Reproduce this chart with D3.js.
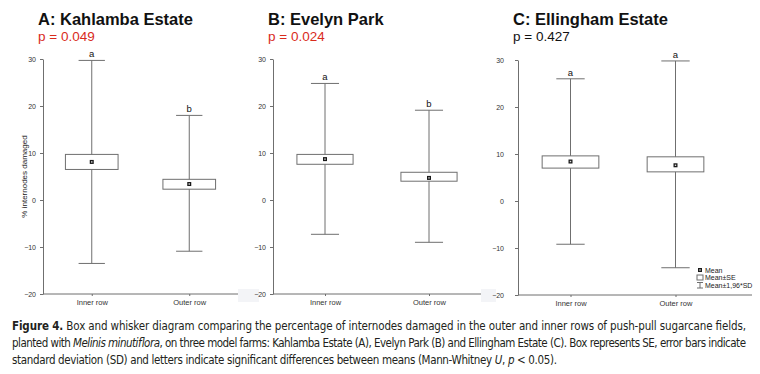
<!DOCTYPE html>
<html lang="en">
<head>
<meta charset="UTF-8">
<script src="https://d3js.org/d3.v7.min.js"></script>
<style>
    body { margin: 0; background: #fff; font-family: "Liberation Sans", Arial, sans-serif; }
    .tick text { fill: #333; }
</style>
</head>
<body>
<svg id="canvas" width="760" height="374"></svg>
<script>
// data
const farms = ["A: Kahlamba Estate", "B: Evelyn Park", "C: Ellingham Estate"];
const pLabels = ["p = 0.049", "p = 0.024", "p = 0.427"];
const pSignificant = [true, true, false];
const rows = ["Inner row", "Outer row"];
const means = [[8.1, 3.4], [8.7, 4.7], [8.4, 7.6]];
const seLow = [[6.5, 2.3], [7.6, 4.0], [7.0, 6.2]];
const seHigh = [[9.7, 4.4], [9.7, 5.9], [9.6, 9.4]];
const sdLow = [[-13.5, -10.9], [-7.3, -9.0], [-9.2, -14.2]];
const sdHigh = [[29.7, 18.0], [24.8, 19.1], [26.0, 29.8]];
const letters = [["a", "b"], ["a", "b"], ["a", "a"]];
const yTicks = [-20, -10, 0, 10, 20, 30];
const legendLabels = ["Mean", "Mean±SE", "Mean±1,96*SD"];

let svg = d3.select("#canvas");
const grey = "#6f6f6f";

// panel frames (pixels)
let panels = [
    { x0: 43, x1: 238, axisEnd: 238, yTop: 59, yBot: 294, pad: 4 },
    { x0: 273, x1: 481, axisEnd: 481, yTop: 59, yBot: 294, pad: 4 },
    { x0: 518, x1: 728, axisEnd: 752, yTop: 60, yBot: 295, pad: 11 }
];

// stitching artefacts of the original scan
svg.append("rect").attr("x", 238).attr("y", 289).attr("width", 21).attr("height", 13).attr("fill", "#f3f4f7");
svg.append("rect").attr("x", 481).attr("y", 289).attr("width", 15).attr("height", 13).attr("fill", "#f3f4f7");

function meanMarker(sel, x, y) {
    sel.append("rect").attr("x", x - 2).attr("y", y - 2)
        .attr("width", 4).attr("height", 4).attr("fill", "#1a1a1a");
    sel.append("rect").attr("x", x - 0.7).attr("y", y - 0.7)
        .attr("width", 1.4).attr("height", 1.4).attr("fill", "#ddd");
}

panels.forEach((p, i) => {
    let g = svg.append("g");

    let yScale = d3.scaleLinear().domain([-20, 30]).range([p.yBot, p.yTop]);
    let xScale = d3.scalePoint().domain(rows).range([p.x0, p.x1]).padding(0.5);
    let step = xScale.step();

    // y axis
    let yAx = g.append("g")
        .attr("transform", `translate(${p.x0},0)`)
        .call(d3.axisLeft(yScale).tickValues(yTicks).tickSize(3).tickSizeOuter(0).tickPadding(p.pad));
    yAx.select(".domain").attr("stroke", grey);
    yAx.selectAll(".tick line").attr("stroke", grey);
    yAx.selectAll(".tick text").attr("font-size", 7).attr("font-family", "Liberation Sans, Arial");

    // x axis
    let xAx = g.append("g")
        .attr("transform", `translate(0,${p.yBot})`)
        .call(d3.axisBottom(xScale).tickSize(2).tickSizeOuter(0).tickPadding(4));
    xAx.select(".domain").remove();
    xAx.selectAll(".tick line").attr("stroke", grey);
    xAx.selectAll(".tick text").attr("font-size", 7.5).attr("font-family", "Liberation Sans, Arial");
    g.append("line")
        .attr("x1", p.x0).attr("x2", p.axisEnd)
        .attr("y1", p.yBot).attr("y2", p.yBot)
        .attr("stroke", grey);

    // titles
    g.append("text")
        .attr("x", p.x0 - 5).attr("y", 25)
        .attr("font-size", 16.5).attr("font-weight", "bold").attr("fill", "#111")
        .text(farms[i]);
    g.append("text")
        .attr("x", p.x0 - 5).attr("y", 41)
        .attr("font-size", 13.5).attr("fill", pSignificant[i] ? "#d92b1c" : "#111")
        .text(pLabels[i]);

    rows.forEach((r, j) => {
        let cx = xScale(r);
        let boxW = step * 0.54;
        let capW = step * 0.27;

        // whisker
        g.append("line")
            .attr("x1", cx).attr("x2", cx)
            .attr("y1", yScale(sdHigh[i][j])).attr("y2", yScale(sdLow[i][j]))
            .attr("stroke", grey);
        [sdHigh[i][j], sdLow[i][j]].forEach(v => {
            g.append("line")
                .attr("x1", cx - capW / 2).attr("x2", cx + capW / 2)
                .attr("y1", yScale(v)).attr("y2", yScale(v))
                .attr("stroke", grey);
        });

        // SE box
        g.append("rect")
            .attr("x", cx - boxW / 2).attr("y", yScale(seHigh[i][j]))
            .attr("width", boxW).attr("height", yScale(seLow[i][j]) - yScale(seHigh[i][j]))
            .attr("fill", "#fff").attr("stroke", grey);

        // mean marker
        meanMarker(g, cx, yScale(means[i][j]));

        // significance letter
        g.append("text")
            .attr("x", cx).attr("y", yScale(sdHigh[i][j]) - 3)
            .attr("text-anchor", "middle").attr("font-size", 9.5).attr("fill", "#111")
            .text(letters[i][j]);
    });

    if (i === 0) {
        g.append("text")
            .attr("transform", `translate(27,${yScale(5)}) rotate(-90)`)
            .attr("text-anchor", "middle").attr("font-size", 8).attr("fill", "#222")
            .text("% internodes damaged");
    }

    if (i === 2) {
        let lg = g.append("g").attr("transform", "translate(700,270)");
        meanMarker(lg, 0, 0);
        lg.append("rect").attr("x", -3).attr("y", 5).attr("width", 6).attr("height", 5)
            .attr("fill", "#fff").attr("stroke", grey);
        lg.append("path").attr("d", "M-3,12.5H3M0,12.5V18M-3,18H3")
            .attr("fill", "none").attr("stroke", grey);
        lg.selectAll(".lab")
            .data(legendLabels)
            .join("text")
            .attr("class", "lab")
            .attr("x", 5).attr("y", (d, k) => 2.5 + k * 7.8)
            .attr("font-size", 7).attr("fill", "#222")
            .text(d => d);
    }
});

// caption
let cap = svg.append("g")
    .attr("font-family", "'Liberation Sans Narrow', 'DejaVu Sans Condensed', 'Liberation Sans', sans-serif")
    .attr("font-size", 11.5).attr("fill", "#231f20");

let l1 = cap.append("text").attr("x", 12).attr("y", 330)
    .attr("textLength", 734).attr("lengthAdjust", "spacing");
l1.append("tspan").attr("font-weight", "bold").text("Figure 4.");
l1.append("tspan").text(" Box and whisker diagram comparing the percentage of internodes damaged in the outer and inner rows of push-pull sugarcane fields,");

let l2 = cap.append("text").attr("x", 12).attr("y", 347)
    .attr("textLength", 734).attr("lengthAdjust", "spacing");
l2.append("tspan").text("planted with ");
l2.append("tspan").attr("font-style", "italic").text("Melinis minutiflora");
l2.append("tspan").text(", on three model farms: Kahlamba Estate (A), Evelyn Park (B) and Ellingham Estate (C). Box represents SE, error bars indicate");

let l3 = cap.append("text").attr("x", 12).attr("y", 364)
    .attr("textLength", 545).attr("lengthAdjust", "spacing");
l3.append("tspan").text("standard deviation (SD) and letters indicate significant differences between means (Mann-Whitney ");
l3.append("tspan").attr("font-style", "italic").text("U");
l3.append("tspan").text(", ");
l3.append("tspan").attr("font-style", "italic").text("p");
l3.append("tspan").text(" < 0.05).");
</script>
</body>
</html>
